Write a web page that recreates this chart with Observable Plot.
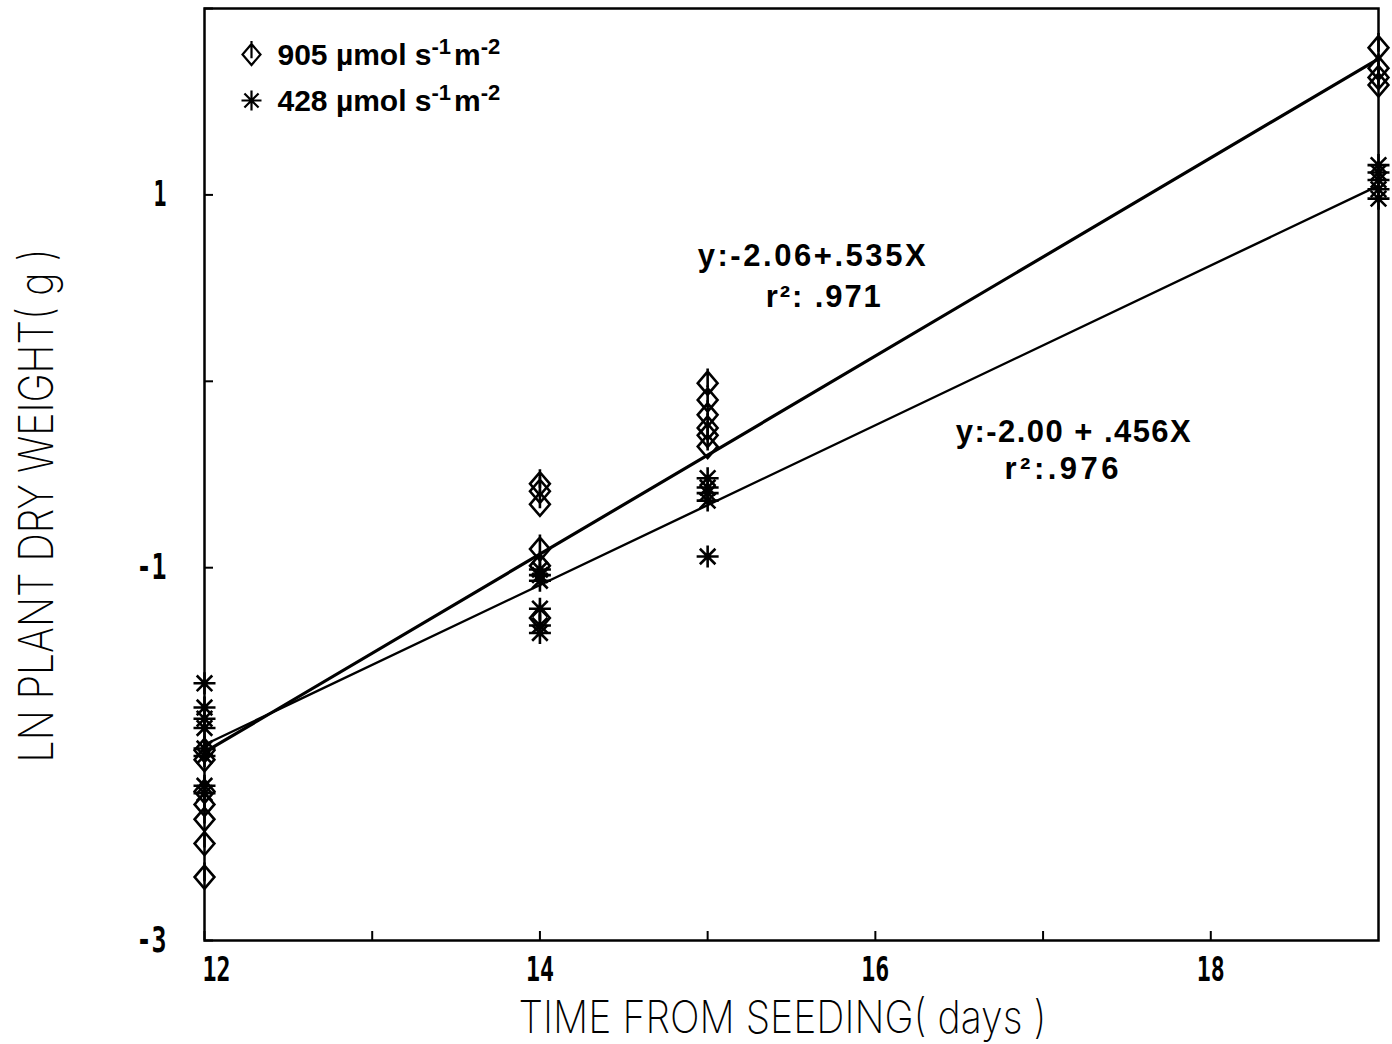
<!DOCTYPE html>
<html>
<head>
<meta charset="utf-8">
<script src="https://cdn.jsdelivr.net/npm/d3@7"></script>
<script src="https://cdn.jsdelivr.net/npm/@observablehq/plot@0.6"></script>
<style>
  body { margin: 0; background: #fff; }
  #chart { width: 1392px; height: 1044px; }
</style>
</head>
<body>
<div id="chart"></div>
<script>
// ---- data ----
const highDays = [12,12,12,12,12,12,12, 14,14,14,14,14,14, 15,15,15,15,15,15, 19,19,19,19];
const highLn   = [-1.98,-2.03,-2.20,-2.27,-2.35,-2.48,-2.66,
                  -0.55,-0.59,-0.66,-0.90,-0.99,-1.27,
                  -0.01,-0.10,-0.18,-0.25,-0.29,-0.35,
                   1.79, 1.68, 1.63, 1.59];
const lowDays  = [12,12,12,12,12,12,12,12, 14,14,14,14,14,14, 15,15,15,15,15, 19,19,19,19,19];
const lowLn    = [-1.62,-1.75,-1.81,-1.86,-1.97,-2.01,-2.17,-2.21,
                  -1.01,-1.04,-1.07,-1.22,-1.31,-1.35,
                  -0.52,-0.57,-0.60,-0.64,-0.94,
                   1.16, 1.12, 1.08, 1.03, 0.98];
const fitDays  = [12, 19];
const fitHigh  = [-1.99, 1.73];
const fitLow   = [-1.95, 1.05];
const xTicks   = [12, 13, 14, 15, 16, 17, 18];
const xTickLabels = [12, 14, 16, 18];
const yTicks   = [-3, -2, -1, 0, 1, 2];
const yTickLabels = [-3, -1, 1];
const legendValues = ["905", "428"];
const legendUnit = ["\u00b5mol s", "-1", "m", "-2"];
const eqLabels = ["y:-2.06+.535X", "r\u00b2: .971", "y:-2.00 + .456X", "r\u00b2:.976"];
const xLabel = "TIME FROM SEEDING( days )";
const yLabel = "LN PLANT DRY WEIGHT( g )";

// ---- custom symbols ----
const diamondBar = {
  draw(ctx, size) {
    const r = Math.sqrt(size / Math.PI);
    const w = r * 0.9, h = r * 1.05;
    ctx.moveTo(0, -h); ctx.lineTo(w, 0); ctx.lineTo(0, h); ctx.lineTo(-w, 0); ctx.closePath();
    ctx.moveTo(0, -h - 3); ctx.lineTo(0, h * 0.35);
  }
};
const star8 = {
  draw(ctx, size) {
    const r = Math.sqrt(size / Math.PI);
    for (let k = 0; k < 4; k++) {
      const a = k * Math.PI / 4;
      const c = Math.cos(a) * r, s = Math.sin(a) * r;
      ctx.moveTo(-c, -s); ctx.lineTo(c, s);
    }
  }
};

const high = highDays.map((d, i) => ({day: d, ln: highLn[i]}));
const low = lowDays.map((d, i) => ({day: d, ln: lowLn[i]}));
const fitH = fitDays.map((d, i) => ({day: d, ln: fitHigh[i]}));
const fitL = fitDays.map((d, i) => ({day: d, ln: fitLow[i]}));

const mono = "DejaVu Sans Mono";
const plotFont = "Inter, 'DejaVu Sans', sans-serif";
const boldFont = "'Liberation Sans', Arial, sans-serif";

const legendSymbols = [diamondBar, star8];
const legendMarks = legendValues.flatMap((v, i) => [
  Plot.dot([0], {frameAnchor: "top-left", dx: 47, dy: 46 + i * 46, symbol: legendSymbols[i], r: 10, stroke: "#000", strokeWidth: 2.2, fill: "none"}),
  Plot.text([v + " " + legendUnit.join("")], {frameAnchor: "top-left", lineAnchor: "middle", dx: 73, dy: 47 + i * 46, textAnchor: "start", fontSize: 30, fontWeight: "bold", fontFamily: boldFont, fill: "#000"})
]);

const chart = Plot.plot({
  width: 1392,
  height: 1044,
  marginLeft: 204,
  marginRight: 14,
  marginTop: 8,
  marginBottom: 104,
  x: {domain: [12, 19]},
  y: {domain: [-3, 2]},
  style: {background: "#fff", color: "#000", overflow: "visible"},
  marks: [
    Plot.frame({stroke: "#000", strokeWidth: 2.5}),
    // inward ticks
    Plot.axisX({ticks: xTicks, tickSize: -9, tickFormat: () => "", label: null, strokeWidth: 2}),
    Plot.axisY({ticks: yTicks, tickSize: -9, tickFormat: () => "", label: null, strokeWidth: 2}),
    // tick labels
    Plot.axisX({ticks: xTickLabels, tickSize: 0, tickPadding: 17, label: null, fontSize: 33, fontWeight: "bold", fontFamily: mono, tickFormat: d => String(d)}),
    Plot.axisY({ticks: yTickLabels, tickSize: 0, tickPadding: 38, label: null, fontSize: 35, fontWeight: "bold", fontFamily: mono, tickFormat: d => String(d)}),
    // axis titles
    Plot.text([xLabel], {frameAnchor: "bottom", lineAnchor: "middle", dx: -9, dy: 78, fontSize: 45, fontWeight: 200, fontFamily: plotFont, fill: "#000"}),
    Plot.text([yLabel], {frameAnchor: "left", textAnchor: "middle", lineAnchor: "middle", dx: -167, dy: 31, rotate: -90, fontSize: 48, fontWeight: 200, fontFamily: plotFont, fill: "#000"}),
    // fitted lines
    Plot.line(fitH, {x: "day", y: "ln", stroke: "#000", strokeWidth: 3.2}),
    Plot.line(fitL, {x: "day", y: "ln", stroke: "#000", strokeWidth: 2.4}),
    // observations
    Plot.dot(high, {x: "day", y: "ln", symbol: diamondBar, r: 11, stroke: "#000", strokeWidth: 2.6, fill: "none"}),
    Plot.dot(low, {x: "day", y: "ln", symbol: star8, r: 11, stroke: "#000", strokeWidth: 2.6, fill: "none"}),
    // equations
    Plot.text(eqLabels, {x: [15.62, 15.69, 17.18, 17.11], y: [0.67, 0.45, -0.27, -0.47], fontSize: 31, fontWeight: "bold", fontFamily: boldFont, fill: "#000"}),
    // legend
    ...legendMarks
  ]
});

// condensed plotter look for the axis text, superscripts and spacing
const svg = d3.select(chart);
const compress = (el, len, adj = "spacingAndGlyphs") => d3.select(el).attr("textLength", len).attr("lengthAdjust", adj);
svg.selectAll("text").each(function() {
  const t = this.textContent;
  if (t === xLabel) compress(this, 528);
  else if (t === yLabel) compress(this, 514);
  else if (xTickLabels.map(String).includes(t) && this.closest("g[aria-label='x-axis tick label']")) {
    compress(this, t.length * 14);
    if (t === "12") d3.select(this).attr("dx", 12);
  }
  else if (this.closest("g[aria-label='y-axis tick label']") && t) compress(this, t.length === 1 ? 13 : 30);
  else if (t === eqLabels[0]) compress(this, 228, "spacing");
  else if (t === eqLabels[1]) compress(this, 115, "spacing");
  else if (t === eqLabels[2]) compress(this, 235, "spacing");
  else if (t === eqLabels[3]) compress(this, 114, "spacing");
  else {
    const vi = legendValues.findIndex(v => t === v + " " + legendUnit.join(""));
    if (vi >= 0) {
      const sel = d3.select(this);
      sel.text(null);
      sel.append("tspan").text(legendValues[vi] + " " + legendUnit[0]);
      sel.append("tspan").attr("dy", -11).attr("font-size", 22).text(legendUnit[1]);
      sel.append("tspan").attr("dy", 11).attr("dx", 3).text(legendUnit[2]);
      sel.append("tspan").attr("dy", -11).attr("font-size", 22).text(legendUnit[3]);
    }
  }
});

document.getElementById("chart").appendChild(chart);
</script>
</body>
</html>
